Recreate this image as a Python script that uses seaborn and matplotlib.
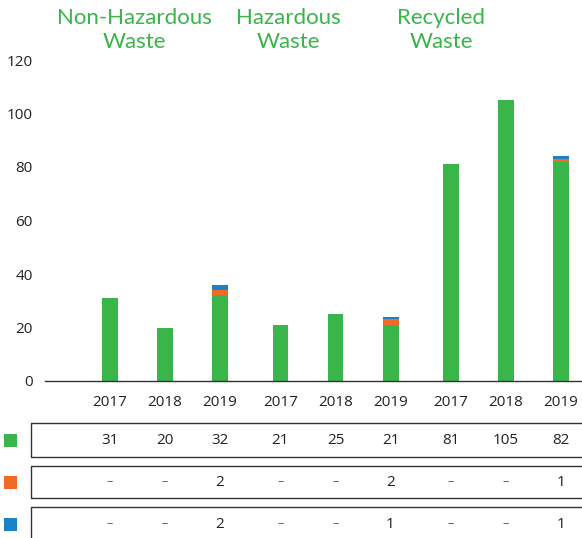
#!/usr/bin/env python3
import matplotlib
matplotlib.use("Agg")
import matplotlib.pyplot as plt
from matplotlib.lines import Line2D
from matplotlib.patches import Rectangle
import pandas as pd
import seaborn as sns

# data
CATEGORIES = ["Non-Hazardous\nWaste", "Hazardous\nWaste", "Recycled\nWaste"]
YEARS = ["2017", "2018", "2019"]
GREEN_VALUES = [31, 20, 32, 21, 25, 21, 81, 105, 82]
ORANGE_VALUES = [0, 0, 2, 0, 0, 2, 0, 0, 1]
BLUE_VALUES = [0, 0, 2, 0, 0, 1, 0, 0, 1]
Y_TICKS = [0, 20, 40, 60, 80, 100, 120]

GREEN = "#3AB54A"
ORANGE = "#F26A23"
BLUE = "#1B82C8"
TEXT = "#222222"

sns.set_theme(style="white")
plt.rcParams["font.family"] = ["Open Sans", "DejaVu Sans"]

# bar positions: 3 years per group, small extra gap between groups
positions = [g * 3.1 + i for g in range(len(CATEGORIES)) for i in range(len(YEARS))]
df = pd.DataFrame(
    {
        "x": positions,
        "year": YEARS * len(CATEGORIES),
        "green": GREEN_VALUES,
        "orange": ORANGE_VALUES,
        "blue": BLUE_VALUES,
    }
)
df["top_orange"] = df["green"] + df["orange"]
df["top_blue"] = df["top_orange"] + df["blue"]

fig = plt.figure(figsize=(5.82, 5.38), dpi=100)
ax = fig.add_axes([45 / 582, 157 / 538, 1 - 45 / 582, (381 - 60) / 538])

bar_kw = dict(native_scale=True, width=0.29, saturation=1, errorbar=None, linewidth=0, ax=ax)
sns.barplot(data=df, x="x", y="top_blue", color=BLUE, **bar_kw)
sns.barplot(data=df, x="x", y="top_orange", color=ORANGE, **bar_kw)
sns.barplot(data=df, x="x", y="green", color=GREEN, **bar_kw)

ax.set_xlim(-1.18, 8.58)
ax.set_ylim(0, 120)
ax.set_yticks(Y_TICKS)
ax.set_xticks(positions, labels=df["year"])
ax.tick_params(axis="both", length=0, labelsize=11, colors=TEXT)
ax.tick_params(axis="x", pad=10)
ax.tick_params(axis="y", pad=9)
ax.set_xlabel("")
ax.set_ylabel("")
for side in ["left", "right", "top"]:
    ax.spines[side].set_visible(False)
ax.spines["bottom"].set_color("#333333")
ax.spines["bottom"].set_linewidth(1.0)
ax.grid(False)

# group titles
title_x = [134 / 582, 288 / 582, 441 / 582]
for tx, name in zip(title_x, CATEGORIES):
    fig.text(tx, 1 - 30 / 538, name, ha="center", va="center", color=GREEN,
             fontsize=16, family=["Lato", "DejaVu Sans"], linespacing=1.2)

# value table under the chart (boxes run off the right edge)
rows = [(GREEN, GREEN_VALUES), (ORANGE, ORANGE_VALUES), (BLUE, BLUE_VALUES)]
row_tops = [423, 466, 507]
row_heights = [34, 32, 34]
trans = ax.get_xaxis_transform()
x0 = 31 / 582
for (color, values), top, h in zip(rows, row_tops, row_heights):
    y_top = 1 - top / 538
    y_bot = 1 - (top + h) / 538
    fig.add_artist(Line2D([1.01, x0, x0, 1.01], [y_top, y_top, y_bot, y_bot],
                          transform=fig.transFigure, color="#333333", linewidth=1.0))
    center = top + h / 2
    fig.patches.append(Rectangle((4 / 582, 1 - (center + 6.5) / 538), 13 / 582, 13 / 538,
                                 transform=fig.transFigure, facecolor=color,
                                 edgecolor="none"))
    y_frac = -(center - 381) / (381 - 60)
    for xp, v in zip(positions, values):
        label = str(v) if v else "–"
        ax.text(xp, y_frac, label, transform=trans, ha="center", va="center",
                fontsize=11 if v else 9, color=TEXT if v else "#555555", clip_on=False)

fig.savefig("out.png", dpi=100)
